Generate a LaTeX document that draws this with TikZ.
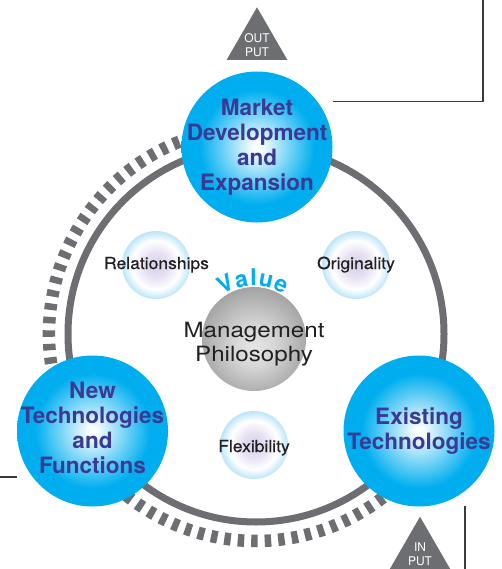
\documentclass[tikz,border=0pt]{standalone}
\usepackage{fontspec}
\setmainfont{TeX Gyre Heros}
\newfontfamily\widesans[FakeStretch=1.15]{TeX Gyre Heros}
\newfontfamily\labelsans[FakeStretch=1.06,FakeBold=0.4]{TeX Gyre Heros}
\usetikzlibrary{shapes.geometric,calc}

\definecolor{ringgray}{HTML}{6D6E71}
\definecolor{skyblue}{HTML}{00AEEF}
\definecolor{labelblue}{HTML}{3B3994}
\definecolor{inkdark}{HTML}{231F20}
\definecolor{lavender}{HTML}{D8D0EA}
\definecolor{paleblue}{HTML}{8AD1F4}
\definecolor{linegray}{HTML}{3A3A3A}

% sphere-like fills (the circle edge sits at about 35bp of the shading)
\pgfdeclareradialshading{bluesphere}{\pgfpointorigin}{%
  color(0bp)=(white); color(2bp)=(white!95!skyblue); color(10bp)=(skyblue!50!white);
  color(19bp)=(skyblue); color(50bp)=(skyblue)}
\pgfdeclareradialshading{softbead}{\pgfpointorigin}{%
  color(0bp)=(lavender); color(9bp)=(lavender!65!white); color(18bp)=(white);
  color(26bp)=(paleblue!65!white); color(32bp)=(paleblue); color(35.4bp)=(paleblue!80!white);
  color(50bp)=(white)}
\pgfdeclareradialshading{greyball}{\pgfpoint{0bp}{-4bp}}{%
  color(0bp)=(white!90!black); color(10bp)=(white!84!black); color(36bp)=(black!47); color(50bp)=(black!47)}

\tikzset{
  hub/.style={circle, minimum size=151pt, inner sep=0pt, shading=bluesphere},
  hublabel/.style={font=\fontsize{22.5}{25}\selectfont\bfseries, text=labelblue, align=center, inner sep=0pt},
  bead/.style={circle, minimum size=68pt, inner sep=0pt, shading=softbead},
  beadlabel/.style={font=\labelsans\fontsize{16.5}{18}\selectfont, text=inkdark, anchor=base, inner sep=0pt},
  iotri/.style={regular polygon, regular polygon sides=3, minimum size=70pt, inner sep=0pt, fill=ringgray},
  iolabel/.style={font=\fontsize{12}{14}\selectfont, text=white, align=center, inner sep=0pt},
  valuechar/.style={font=\fontsize{23}{23}\selectfont\bfseries, text=skyblue, anchor=base, inner sep=0pt},
  thinline/.style={draw=linegray, line width=1.1pt},
}

\begin{document}
\begin{tikzpicture}[x=1pt, y=1pt]
\useasboundingbox (0,0) rectangle (501,-569);

% outer cycle and its ticked rim
\coordinate (hubring) at (256,-334);
\draw[ringgray, line width=7pt] (hubring) circle[radius=188];
\draw[ringgray, line width=12.5pt, dash pattern=on 6.5pt off 7pt]
  ($(hubring)+(108:207)$) arc[start angle=108, end angle=308, radius=207];

% three main stages
\node[hub] (market) at (257,-147) {};
\node[hublabel] at (market.center) {Market\\Development\\and\\Expansion};
\node[hub] (newtech) at (92.5,-431) {};
\node[hublabel, yshift=3.5pt] at (newtech.center) {New\\Technologies\\and\\Functions};
\node[hub] (existing) at (419,-431) {};
\node[hublabel] at (existing.center) {Existing\\Technologies};

% core values
\node[bead] (rel) at (156,-265) {};
\node[beadlabel] at ($(rel.center)+(0.5,-4)$) {Relationships};
\node[bead] (orig) at (356,-265) {};
\node[beadlabel] at ($(orig.center)+(0,-4)$) {Originality};
\node[bead] (flex) at (254,-445) {};
\node[beadlabel] at ($(flex.center)+(0,-7)$) {Flexibility};

% philosophy at the centre
\node[circle, minimum size=104pt, inner sep=0pt, shading=greyball] (ball) at (254,-339) {};
\node[font=\widesans\fontsize{21}{24}\selectfont, text=inkdark, align=center, inner sep=0pt]
  (philo) at ($(ball.center)+(0,-5.5)$) {Management\\Philosophy};
\foreach \ch/\ang in {V/117, a/102, l/90.5, u/78.5, e/63.5}
  \node[valuechar, rotate=\ang-90] (val\ch) at ($(ball.center)+(\ang:53.5)$) {\ch};

% output / input markers
\node[iotri] (output) at (257,-42.3) {};
\node[iolabel] at ($(output.center)+(0,-2.7)$) {OUT\\PUT};
\node[iotri] (input) at (420,-551.7) {};
\node[iolabel] at ($(input.center)+(0,-2.5)$) {IN\\PUT};

% frame lines
\coordinate (outA) at (333,-101.5);
\coordinate (outB) at (483,-101.5);
\coordinate (outC) at (483,0);
\draw[thinline] (outA) -- (outB) -- (outC);
\coordinate (leftA) at (0,-477);
\coordinate (leftB) at (17,-477);
\draw[thinline] (leftA) -- (leftB);
\coordinate (inA) at (465,-506);
\coordinate (inB) at (465,-569);
\draw[thinline] (inA) -- (inB);
\end{tikzpicture}
\end{document}
